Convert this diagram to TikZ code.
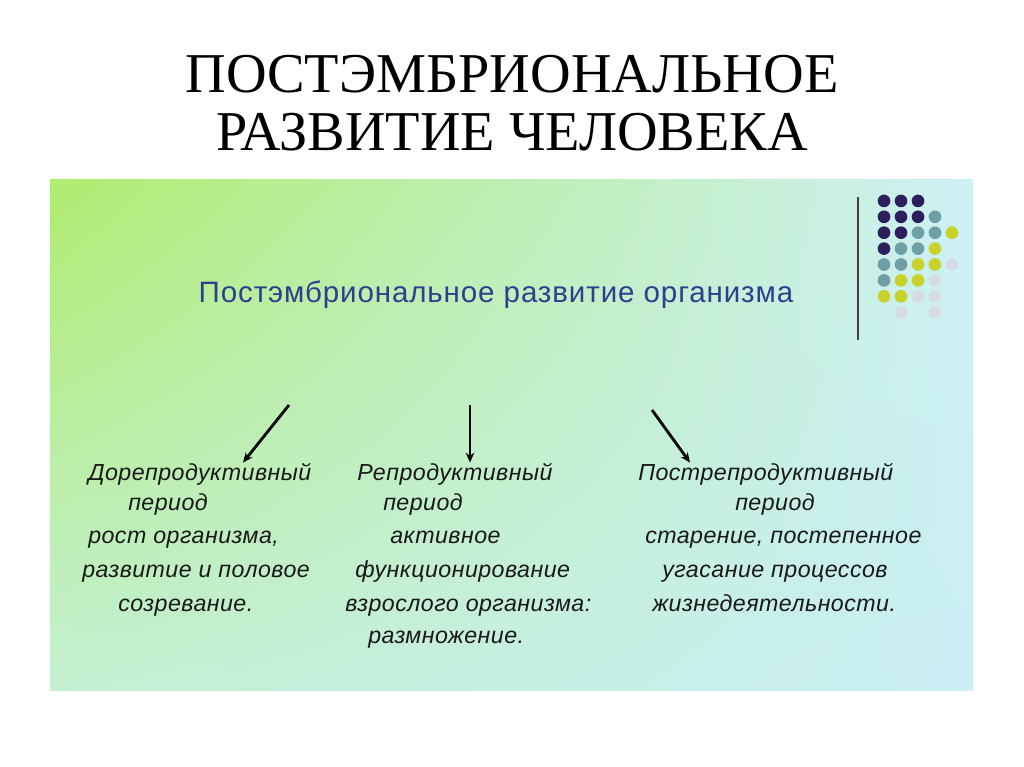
\documentclass[tikz,border=0pt]{standalone}
\usepackage{fontspec}
\setmainfont{Liberation Serif}
\newfontfamily\subfont[LetterSpace=3]{Liberation Sans}
\newfontfamily\bodyfont[LetterSpace=2]{Liberation Sans}
\usetikzlibrary{arrows.meta, shadings}

\definecolor{navydot}{HTML}{2B1F5C}
\definecolor{tealdot}{HTML}{6E9FA5}
\definecolor{yelldot}{HTML}{C8D22A}
\definecolor{greydot}{HTML}{D6DCE6}
\definecolor{subblue}{HTML}{2E3F8F}
\definecolor{bgUL}{RGB}{176,236,112}
\definecolor{bgUR}{RGB}{206,241,246}
\definecolor{bgLL}{RGB}{196,240,210}
\definecolor{bgLR}{RGB}{202,238,244}

\tikzset{
  line/.style={anchor=base west, inner sep=0pt, text=black!90,
    font=\bodyfont\itshape\fontsize{16.5}{16.5}\selectfont},
  arr/.style={line width=2pt, -{Stealth[length=7pt,width=6pt]}},
  dot/.style={circle, inner sep=0pt, minimum size=9pt}
}

\begin{document}
\begin{tikzpicture}[x=0.025cm, y=-0.025cm]

    \useasboundingbox[fill=white] (0, 0) rectangle (1024, 767);

    % title
    \node (title) at (512, 103) [align=center, font=\fontsize{40}{41.5}\selectfont]
      {ПОСТЭМБРИОНАЛЬНОЕ\\РАЗВИТИЕ ЧЕЛОВЕКА};

    % panel
    \shade[upper left=bgUL, upper right=bgUR, lower left=bgLL, lower right=bgLR]
      (50, 180) rectangle (973, 690);

    \node (sub) at (496, 295) [text=subblue, font=\subfont\fontsize{21}{21}\selectfont]
      {Постэмбриональное развитие организма};

    \draw[black!75, line width=1.2pt] (858, 197) -- (858, 340);

    % dots
    \foreach \row/\cols in {1/{navydot,navydot,navydot},
        2/{navydot,navydot,navydot,tealdot},
        3/{navydot,navydot,tealdot,tealdot,yelldot},
        4/{navydot,tealdot,tealdot,yelldot},
        5/{tealdot,tealdot,yelldot,yelldot,greydot},
        6/{tealdot,yelldot,yelldot,greydot},
        7/{yelldot,yelldot,greydot,greydot},
        8/{none,greydot,none,greydot}} {
      \foreach \c [count=\k] in \cols {
        \node[dot, fill=\c] (d\row-\k) at (867 + 17 * \k, 185 + 15.9 * \row) {};
      }
    }

    % periods
    \node[line] (a1) at (88, 480) {Дорепродуктивный};
    \node[line] (a2) at (128, 510) {период};
    \node[line] (a3) at (88, 543) {рост организма,};
    \node[line] (a4) at (82, 577) {развитие и половое};
    \node[line] (a5) at (118, 611) {созревание.};

    \node[line] (b1) at (357, 480) {Репродуктивный};
    \node[line] (b2) at (383, 510) {период};
    \node[line] (b3) at (390, 543) {активное};
    \node[line] (b4) at (355, 577) {функционирование};
    \node[line] (b5) at (345, 611) {взрослого организма:};
    \node[line] (b6) at (368, 643) {размножение.};

    \node[line] (c1) at (638, 480) {Пострепродуктивный};
    \node[line] (c2) at (735, 510) {период};
    \node[line] (c3) at (645, 543) {старение, постепенное};
    \node[line] (c4) at (662, 577) {угасание процессов};
    \node[line] (c5) at (652, 611) {жизнедеятельности.};

    % arrows
    \coordinate (s1) at (289, 405);
    \coordinate (s2) at (470, 405);
    \coordinate (s3) at (652, 410);
    \draw[arr] (s1) -- ([xshift=155*0.025cm]a1.north west);
    \draw[arr] (s2) -- ([xshift=113*0.025cm]b1.north west);
    \draw[arr] (s3) -- ([xshift=52*0.025cm]c1.north west);

\end{tikzpicture}
\end{document}
